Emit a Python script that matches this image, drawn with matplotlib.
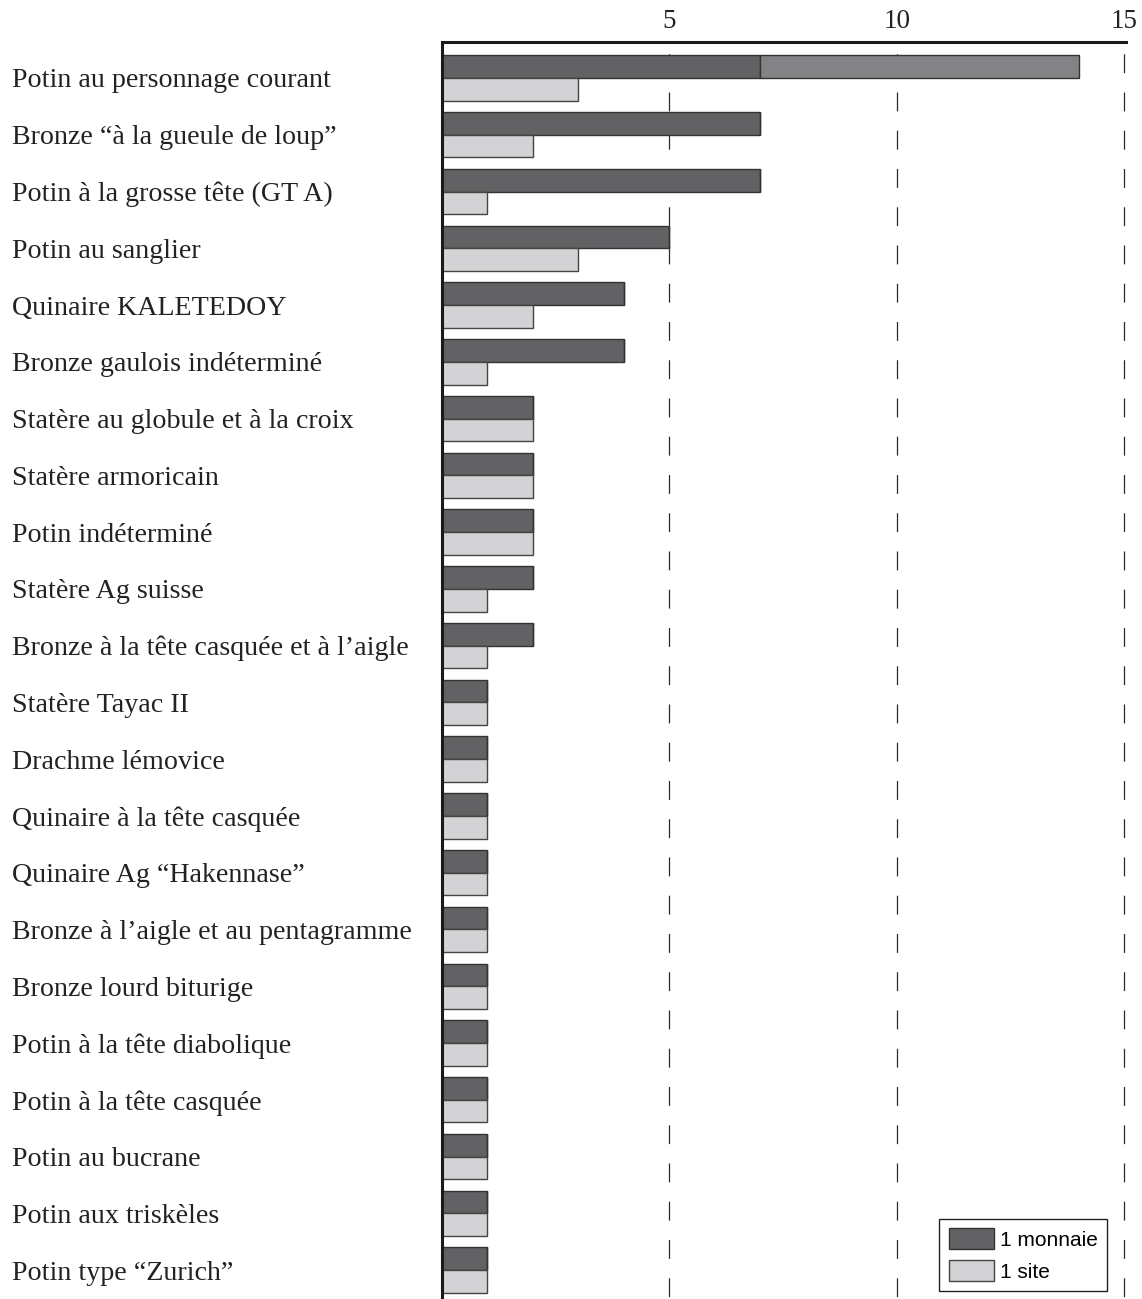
import matplotlib
matplotlib.use("Agg")
import matplotlib.pyplot as plt
from matplotlib.patches import Patch
import numpy as np

categories = [
    "Potin au personnage courant",
    "Bronze \u201cà la gueule de loup\u201d",
    "Potin à la grosse tête (GT A)",
    "Potin au sanglier",
    "Quinaire KALETEDOY",
    "Bronze gaulois indéterminé",
    "Statère au globule et à la croix",
    "Statère armoricain",
    "Potin indéterminé",
    "Statère Ag suisse",
    "Bronze à la tête casquée et à l\u2019aigle",
    "Statère Tayac II",
    "Drachme lémovice",
    "Quinaire à la tête casquée",
    "Quinaire Ag \u201cHakennase\u201d",
    "Bronze à l\u2019aigle et au pentagramme",
    "Bronze lourd biturige",
    "Potin à la tête diabolique",
    "Potin à la tête casquée",
    "Potin au bucrane",
    "Potin aux triskèles",
    "Potin type \u201cZurich\u201d",
]
monnaie = [7, 7, 7, 5, 4, 4, 2, 2, 2, 2, 2, 1, 1, 1, 1, 1, 1, 1, 1, 1, 1, 1]
monnaie_extension = [7, 0, 0, 0, 0, 0, 0, 0, 0, 0, 0, 0, 0, 0, 0, 0, 0, 0, 0, 0, 0, 0]
site = [3, 2, 1, 3, 2, 1, 2, 2, 2, 1, 1, 1, 1, 1, 1, 1, 1, 1, 1, 1, 1, 1]
xticks = [5, 10, 15]

DARK = "#626264"
MID = "#838386"
LIGHT = "#d3d3d5"

W, H = 1142, 1299
fig = plt.figure(figsize=(W / 100, H / 100), dpi=100)
left = 442 / W
right = 1124 / W
top_px = 42
ax = fig.add_axes([left, 0, right - left, (H - top_px) / H])

n = len(categories)
y = np.arange(n)
bh = 0.4
ylim_top = -0.634
ylim_bot = 21.51

# dashed grid lines at the tick values
ax.vlines(xticks, ylim_top, ylim_bot, colors="#2a2a2a", linewidth=0.9,
          linestyles=[(21.2, (15.1, 15.5))], zorder=0, clip_on=False)

ax.barh(y - bh / 2, monnaie, height=bh, color=DARK, edgecolor="#333333", linewidth=1.0, zorder=2)
ax.barh(y - bh / 2, monnaie_extension, left=monnaie, height=bh, color=MID,
        edgecolor="#333333", linewidth=1.0, zorder=2)
ax.barh(y + bh / 2, site, height=bh, color=LIGHT, edgecolor="#444444", linewidth=1.0, zorder=2)

ax.set_xlim(0, 15)
ax.set_ylim(ylim_bot, ylim_top)

for s in ["right", "bottom"]:
    ax.spines[s].set_visible(False)
ax.spines["top"].set_linewidth(2.2)
ax.spines["left"].set_linewidth(2.2)
ax.spines["top"].set_color("#1a1a1a")
ax.spines["left"].set_color("#1a1a1a")
ax.spines["top"].set_bounds(0, 15.05)

serif = ["Liberation Serif", "DejaVu Serif"]
ax.xaxis.tick_top()
ax.set_xticks(xticks)
ax.set_xticklabels([str(v) for v in xticks], fontfamily=serif, fontsize=19.5, color="#222222")
ax.tick_params(axis="x", length=0, pad=6)

ax.set_yticks(y)
ax.set_yticklabels(categories, fontfamily=serif, fontsize=20.2, color="#222222", ha="left")
ax.tick_params(axis="y", length=0, pad=(442 - 12) * 0.72)

handles = [Patch(facecolor=DARK, edgecolor="#333333", linewidth=1.0, label="1 monnaie"),
           Patch(facecolor=LIGHT, edgecolor="#444444", linewidth=1.0, label="1 site")]
leg = ax.legend(handles=handles, loc="lower right", bbox_to_anchor=(0.975, 0.0064),
                borderaxespad=0, fancybox=False, frameon=True, edgecolor="#222222",
                prop={"family": ["Liberation Sans", "DejaVu Sans"], "size": 15},
                handlelength=2.2, handleheight=1.15, handletextpad=0.25,
                labelspacing=0.5, borderpad=0.45, facecolor="white", framealpha=1)
leg.get_frame().set_linewidth(1.0)

fig.savefig("out.png", dpi=100)
